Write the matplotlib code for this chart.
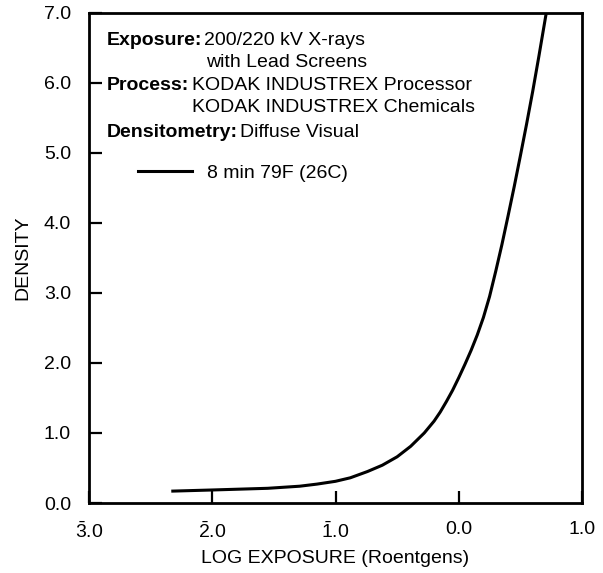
import matplotlib
matplotlib.use('Agg')
import matplotlib.pyplot as plt

plt.rcParams['font.family'] = ['Liberation Sans', 'DejaVu Sans']
plt.rcParams['mathtext.fontset'] = 'custom'
plt.rcParams['mathtext.rm'] = 'Liberation Sans'
plt.rcParams['mathtext.it'] = 'Liberation Sans:italic'
plt.rcParams['mathtext.bf'] = 'Liberation Sans:bold'
plt.rcParams['font.size'] = 14

# kurve: log exposure / density
log_exp = [-2.32, -2.0, -1.55, -1.29, -1.15, -1.0, -0.88, -0.74, -0.62, -0.5,
           -0.39, -0.28, -0.2, -0.15, -0.1, -0.05, 0.0, 0.05, 0.1, 0.15,
           0.2, 0.25, 0.3, 0.35, 0.4, 0.45, 0.5, 0.55, 0.6, 0.65, 0.707]
density = [0.17, 0.186, 0.21, 0.24, 0.27, 0.31, 0.36, 0.45, 0.54, 0.66,
           0.81, 1.0, 1.17, 1.30, 1.45, 1.61, 1.79, 1.98, 2.18, 2.40,
           2.65, 2.95, 3.31, 3.69, 4.10, 4.52, 4.96, 5.41, 5.88, 6.38, 6.97]

x_ticks = [-3, -2, -1, 0, 1]
x_ticklabels = [r'$\bar{3}$.0', r'$\bar{2}$.0', r'$\bar{1}$.0', '0.0', '1.0']
y_ticks = [0, 1, 2, 3, 4, 5, 6, 7]
y_ticklabels = ['0.0', '1.0', '2.0', '3.0', '4.0', '5.0', '6.0', '7.0']
series_label = '8 min 79F (26C)'

W, H = 603, 573
fig = plt.figure(figsize=(W / 100, H / 100), dpi=100)
ax = fig.add_axes([89 / W, 1 - 503 / H, (582 - 89) / W, (503 - 13) / H])

line, = ax.plot(log_exp, density, color='black', lw=2.2, label=series_label)

ax.set_xlim(-3, 1)
ax.set_ylim(0, 7)
ax.set_xticks(x_ticks)
ax.set_xticklabels(x_ticklabels)
ax.set_yticks(y_ticks)
ax.set_yticklabels(y_ticklabels)
ax.tick_params(direction='in', length=9, width=1.6, top=False, right=False)
ax.tick_params(axis='x', pad=13)
ax.tick_params(axis='y', pad=13)
for s in ax.spines.values():
    s.set_linewidth(2)

ax.set_xlabel('LOG EXPOSURE (Roentgens)', labelpad=6)
ax.set_ylabel('DENSITY', labelpad=9)


def fp(px, py):
    # pixel -> figure fraction
    return px / W, 1 - py / H


def txt(px, py, s, bold=False):
    fig.text(*fp(px, py), s, ha='left', va='baseline',
             fontweight='bold' if bold else 'normal')


txt(107, 45, 'Exposure:', True)
txt(204, 45, '200/220 kV X-rays')
txt(206, 67, 'with Lead Screens')
txt(107, 90, 'Process:', True)
txt(192, 90, 'KODAK INDUSTREX Processor')
txt(192, 112, 'KODAK INDUSTREX Chemicals')
txt(107, 137, 'Densitometry:', True)
txt(240, 137, 'Diffuse Visual')

ax.legend(handles=[line], loc='center left', bbox_to_anchor=fp(138, 173),
          bbox_transform=fig.transFigure, frameon=False, borderpad=0,
          borderaxespad=0, handlelength=2.8, handletextpad=0.75)

fig.savefig('out.png', dpi=100)
